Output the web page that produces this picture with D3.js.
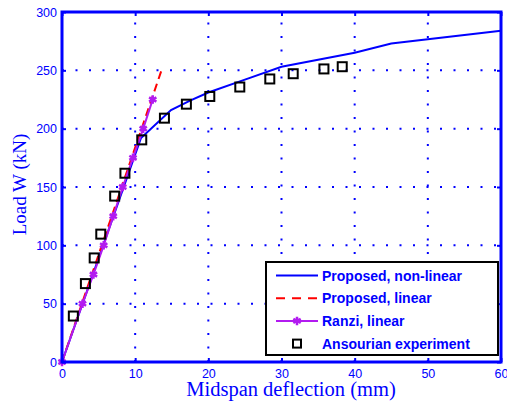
<!DOCTYPE html>
<html lang="en">
<head>
<meta charset="UTF-8">
<title>Load vs midspan deflection</title>
<script src="https://d3js.org/d3.v7.min.js"></script>
<style>
    body { margin: 0; background: #fff; }
</style>
</head>
<body>
<script>
// data
const nonLinX = [0, 10.8, 14.9, 17.5, 20, 25, 30, 40, 45, 60];
const nonLinY = [0, 192, 216, 224, 231, 242, 253, 265, 273, 284];
const linX = [0, 13.6];
const linY = [0, 250];
const ranziX = [0, 2.8, 4.3, 5.7, 7.0, 8.3, 9.7, 11.1, 12.4];
const ranziY = [0, 50, 75, 100, 125, 150, 175, 200, 225];
const expX = [1.55, 3.2, 4.4, 5.3, 7.2, 8.6, 10.9, 14.0, 17.0, 20.2, 24.3, 28.4, 31.6, 35.8, 38.3];
const expY = [39.4, 67.2, 89.2, 109.6, 142.2, 161.8, 190.4, 209, 221, 227.6, 235.7, 242.6, 247.1, 251.2, 253.1];
const xTicks = [0, 10, 20, 30, 40, 50, 60];
const yTicks = [0, 50, 100, 150, 200, 250, 300];
const legendLabels = ['Proposed, non-linear', 'Proposed, linear', 'Ranzi, linear', 'Ansourian experiment'];

const width = 507, height = 402;
const margin = {top: 12, right: 6, bottom: 40, left: 62};
const blue = '#0000ff', purple = '#b21bf0';

const svg = d3.select('body').append('svg')
    .attr('width', width)
    .attr('height', height);

const x = d3.scaleLinear().domain([0, 60]).range([margin.left, width - margin.right]);
const y = d3.scaleLinear().domain([0, 300]).range([height - margin.bottom, margin.top]);

const zip = (xs, ys) => xs.map((v, i) => [v, ys[i]]);

// dotted grid
const grid = svg.append('g').attr('stroke', blue).attr('stroke-width', 2)
    .attr('stroke-dasharray', '2,11.5');
grid.selectAll('.gx').data(xTicks.slice(1, -1)).enter().append('line')
    .attr('x1', d => x(d)).attr('x2', d => x(d))
    .attr('y1', y(0)).attr('y2', y(300));
grid.selectAll('.gy').data(yTicks.slice(1, -1)).enter().append('line')
    .attr('x1', x(0)).attr('x2', x(60))
    .attr('y1', d => y(d)).attr('y2', d => y(d));

const line = d3.line().x(d => x(d[0])).y(d => y(d[1]));

// series
svg.append('path').datum(zip(nonLinX, nonLinY))
    .attr('d', line).attr('fill', 'none').attr('stroke', blue).attr('stroke-width', 2);
svg.append('path').datum(zip(linX, linY))
    .attr('d', line).attr('fill', 'none').attr('stroke', '#ff0000').attr('stroke-width', 2)
    .attr('stroke-dasharray', '8,5');
svg.append('path').datum(zip(ranziX, ranziY))
    .attr('d', line).attr('fill', 'none').attr('stroke', purple).attr('stroke-width', 2);

const star = d3.symbol().type(d3.symbolAsterisk || d3.symbolCross).size(50);
svg.selectAll('.star').data(zip(ranziX, ranziY)).enter().append('path')
    .attr('transform', d => `translate(${x(d[0])},${y(d[1])})`)
    .attr('d', star).attr('fill', 'none').attr('stroke', purple).attr('stroke-width', 2.5);

svg.selectAll('.sq').data(zip(expX, expY)).enter().append('rect')
    .attr('x', d => x(d[0]) - 4.5).attr('y', d => y(d[1]) - 4.5)
    .attr('width', 9).attr('height', 9)
    .attr('fill', 'none').attr('stroke', '#000').attr('stroke-width', 2);

// axes box and ticks
svg.append('rect')
    .attr('x', x(0)).attr('y', y(300))
    .attr('width', x(60) - x(0)).attr('height', y(0) - y(300))
    .attr('fill', 'none').attr('stroke', blue).attr('stroke-width', 3);

svg.append('g').attr('transform', `translate(0,${y(0)})`)
    .call(d3.axisBottom(x).tickValues(xTicks).tickSize(-4).tickPadding(7));
svg.append('g').attr('transform', `translate(${x(0)},0)`)
    .call(d3.axisLeft(y).tickValues(yTicks).tickSize(-4).tickPadding(5));
svg.append('g').attr('transform', `translate(${x(60)},0)`)
    .call(d3.axisRight(y).tickValues(yTicks).tickSize(-4).tickFormat(''));
svg.append('g').attr('transform', `translate(0,${y(300)})`)
    .call(d3.axisTop(x).tickValues(xTicks).tickSize(-4).tickFormat(''));
svg.selectAll('.domain').remove();
svg.selectAll('.tick line').attr('stroke', blue).attr('stroke-width', 2);
svg.selectAll('.tick text').attr('fill', blue)
    .style('font-family', 'Liberation Sans, Arial, sans-serif').style('font-size', '12.5px');

// axis titles
svg.append('text')
    .attr('x', 291).attr('y', 396)
    .attr('text-anchor', 'middle').attr('fill', blue)
    .style('font-family', 'Liberation Serif, Times New Roman, serif').style('font-size', '20.5px')
    .text('Midspan deflection (mm)');
svg.append('text')
    .attr('transform', `translate(26,184.5) rotate(-90)`)
    .attr('text-anchor', 'middle').attr('fill', blue)
    .style('font-family', 'Liberation Serif, Times New Roman, serif').style('font-size', '19px')
    .text('Load W (kN)');

// legend
const lg = svg.append('g').attr('transform', 'translate(266,262)');
lg.append('rect').attr('width', 232).attr('height', 93)
    .attr('fill', '#fff').attr('stroke', '#000').attr('stroke-width', 2);
const rows = lg.selectAll('.row').data(legendLabels).enter().append('g')
    .attr('transform', (d, i) => `translate(0,${13.5 + i * 22.7})`);
rows.append('text').attr('x', 56).attr('y', 5)
    .attr('fill', blue)
    .style('font-family', 'Liberation Sans, Arial, sans-serif')
    .style('font-size', '14px').style('font-weight', 'bold')
    .text(d => d);
rows.filter((d, i) => i === 0).append('line')
    .attr('x1', 10).attr('x2', 52).attr('stroke', blue).attr('stroke-width', 2);
rows.filter((d, i) => i === 1).append('line')
    .attr('x1', 10).attr('x2', 52).attr('stroke', '#ff0000').attr('stroke-width', 2)
    .attr('stroke-dasharray', '9,7');
rows.filter((d, i) => i === 2).append('line')
    .attr('x1', 10).attr('x2', 52).attr('stroke', purple).attr('stroke-width', 2);
rows.filter((d, i) => i === 2).append('path')
    .attr('transform', 'translate(31,0)').attr('d', star)
    .attr('fill', 'none').attr('stroke', purple).attr('stroke-width', 2.5);
rows.filter((d, i) => i === 3).append('rect')
    .attr('x', 27).attr('y', -4).attr('width', 8).attr('height', 8)
    .attr('fill', 'none').attr('stroke', '#000').attr('stroke-width', 2);
</script>
</body>
</html>
